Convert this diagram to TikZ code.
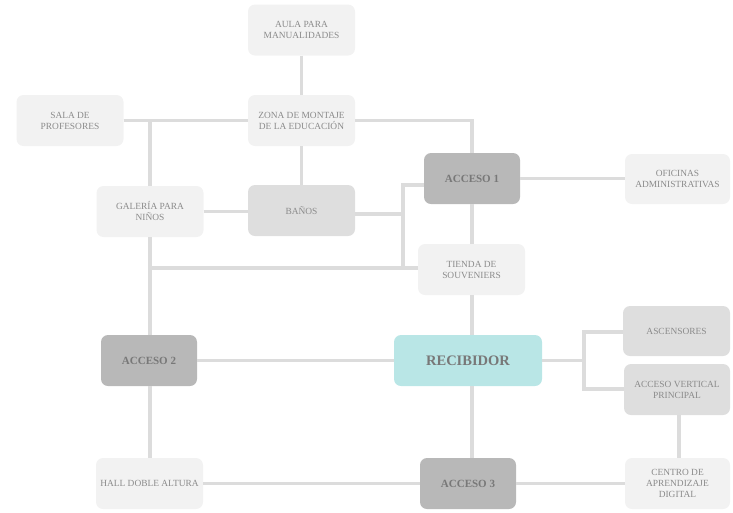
\documentclass[tikz,border=0pt]{standalone}
\usepackage{fontspec}
\setmainfont{Liberation Serif}
\usetikzlibrary{calc}
\definecolor{lightbox}{HTML}{F2F2F2}
\definecolor{midbox}{HTML}{DEDEDE}
\definecolor{darkbox}{HTML}{B8B8B8}
\definecolor{tealbox}{HTML}{B9E6E6}
\definecolor{txt}{HTML}{8A8A8A}
\definecolor{txtd}{HTML}{787878}
\definecolor{conn}{HTML}{DCDCDC}
\tikzset{
  box/.style={rectangle, rounded corners=7pt, inner sep=0pt, minimum width=107pt, minimum height=51pt,
    align=center, text=txt, font=\fontsize{9.4}{11}\selectfont},
  lightnode/.style={box, fill=lightbox},
  midnode/.style={box, fill=midbox},
  darknode/.style={box, fill=darkbox, minimum width=96pt, text=txtd, font=\fontsize{11}{12}\selectfont\bfseries},
  tealnode/.style={box, fill=tealbox, minimum width=148pt, text=txtd, font=\fontsize{14.5}{16}\selectfont\bfseries},
  link/.style={draw=conn, line width=3.3pt}
}
\begin{document}
\begin{tikzpicture}[x=1pt,y=-1pt]
\useasboundingbox (0,0) rectangle (733,512);
% nodes
\node[lightnode] (aula) at (301.5,30) {AULA PARA\\MANUALIDADES};
\node[lightnode] (zona) at (301.5,120.5) {ZONA DE MONTAJE\\DE LA EDUCACIÓN};
\node[lightnode] (sala) at (70,120.5) {SALA DE\\PROFESORES};
\node[lightnode] (gal) at (150,211.5) {GALERÍA PARA\\NIÑOS};
\node[midnode] (banos) at (301.5,210.5) {BAÑOS};
\node[darknode] (a1) at (472,178.5) {ACCESO 1};
\node[lightnode, minimum width=105pt, minimum height=50pt] (ofi) at (677.5,179) {OFICINAS\\ADMINISTRATIVAS};
\node[lightnode] (tienda) at (471.5,269.5) {TIENDA DE\\SOUVENIERS};
\node[tealnode] (rec) at (468,360.5) {RECIBIDOR};
\node[midnode, minimum height=50pt] (asc) at (676.5,331) {ASCENSORES};
\node[midnode, minimum width=106pt] (av) at (677,389.5) {ACCESO VERTICAL\\PRINCIPAL};
\node[darknode] (a2) at (149,360.5) {ACCESO 2};
\node[lightnode] (hall) at (149.5,483.5) {HALL DOBLE ALTURA};
\node[darknode] (a3) at (468,483.5) {ACCESO 3};
\node[lightnode, minimum width=105pt] (cen) at (677.5,483.5) {CENTRO DE\\APRENDIZAJE\\DIGITAL};
% junction coordinates
\coordinate (jsala) at (150,121);
\coordinate (jb) at (403,214);
\coordinate (ja1) at (403,185);
\coordinate (jt) at (403,268);
\coordinate (jl) at (150,268);
\coordinate (jr) at (584,360.5);
\coordinate (jasc) at (584,332);
\coordinate (jav) at (584,389);
% connectors
\draw[link] (aula.south) -- (zona.north);
\draw[link] (sala.east) -- (zona.west);
\draw[link] (jsala) -- (gal.north);
\draw[link] (gal.south) -- (a2.north -| gal.south);
\draw[link] (zona.east) -| (a1.north);
\draw[link] (zona.south) -- (banos.north);
\draw[link] (gal.east) -- (banos.west |- gal.east);
\draw[link] (banos.east |- jb) -- (jb);
\draw[link] (a1.west |- ja1) -- (ja1) -- (jt);
\draw[link] (jl) -- (tienda.west |- jl);
\draw[link] (a1.south) -- (tienda.north -| a1.south);
\draw[link] (a1.east) -- (ofi.west |- a1.east);
\draw[link] (tienda.south -| a1.south) -- (rec.north -| a1.south);
\draw[link] (a2.east) -- (rec.west);
\draw[link] (rec.east) -- (jr);
\draw[link] (asc.west |- jasc) -- (jasc) -- (jav) -- (av.west |- jav);
\draw[link] (rec.south -| a1.south) -- (a3.north -| a1.south);
\draw[link] (a2.south -| gal.south) -- (hall.north -| gal.south);
\draw[link] (hall.east) -- (a3.west);
\draw[link] (a3.east) -- (cen.west);
\draw[link] ($(av.south)+(2,0)$) -- ($(cen.north)+(1.5,0)$);
\end{tikzpicture}
\end{document}
